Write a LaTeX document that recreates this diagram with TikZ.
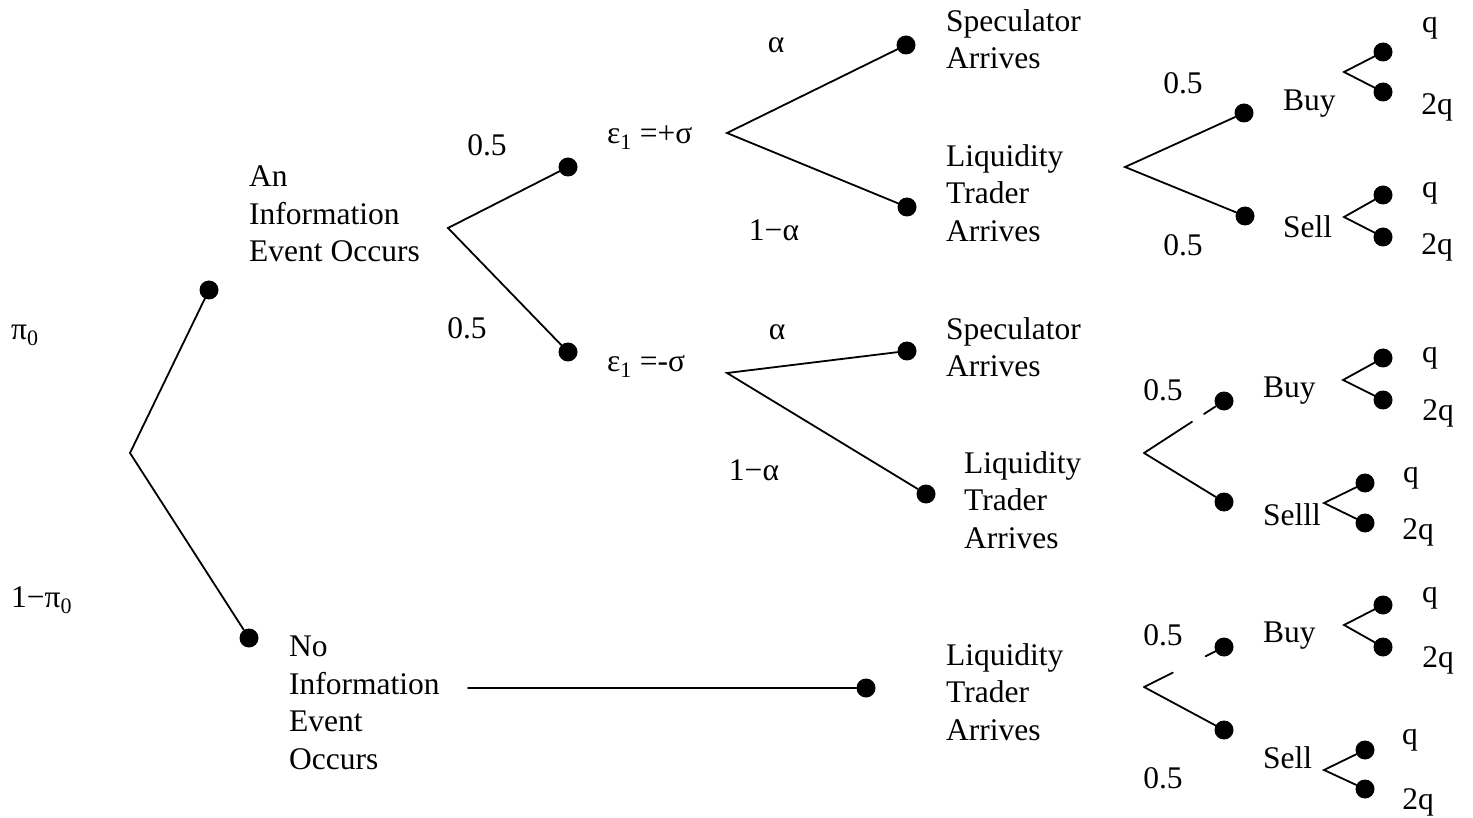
\documentclass[tikz,border=0pt]{standalone}
\usepackage{fontspec}
\setmainfont{Liberation Serif}
\usetikzlibrary{calc}
\tikzset{
  dot/.style={circle,fill=black,inner sep=0pt,minimum size=19pt},
  ln/.style={line width=1.8pt,line cap=round},
  lbl/.style={inner sep=0pt,font=\fontsize{31.5}{37.5}\selectfont},
  blk/.style={lbl,anchor=west,align=left},
}
\begin{document}
\begin{tikzpicture}[x=1pt,y=-1pt]
\useasboundingbox (0,0) rectangle (1473,818);
% ---- fork points
\coordinate (r0) at (130,453);
\coordinate (fa) at (448,228);
\coordinate (fp) at (727,133);
\coordinate (fm) at (727,373);
\coordinate (ft) at (1125,167);
\coordinate (fmid) at (1144,453);
\coordinate (fbot) at (1144,687);
\coordinate (nstart) at (468,688);
\coordinate (b1) at (1344,72);
\coordinate (s1) at (1344,217);
\coordinate (b2) at (1343,380);
\coordinate (s2) at (1324,503);
\coordinate (b3) at (1344,625);
\coordinate (s3) at (1324,770);
% ---- dots
\node[dot] (dinfo) at (209,290) {};
\node[dot] (dnoinfo) at (249,638) {};
\node[dot] (dplus) at (568,167) {};
\node[dot] (dminus) at (568,352) {};
\node[dot] (dspec1) at (906,45) {};
\node[dot] (dliq1) at (907,207) {};
\node[dot] (dspec2) at (907,351) {};
\node[dot] (dliq2) at (926,494) {};
\node[dot] (dliq3) at (866,688) {};
\node[dot] (dbuy1) at (1244,113) {};
\node[dot] (dsell1) at (1245,216) {};
\node[dot] (dbuy2) at (1224,401) {};
\node[dot] (dsell2) at (1224,502) {};
\node[dot] (dbuy3) at (1224,647) {};
\node[dot] (dsell3) at (1224,730) {};
\node[dot] (q1a) at (1383,52) {};
\node[dot] (q1b) at (1383,92) {};
\node[dot] (q2a) at (1383,195) {};
\node[dot] (q2b) at (1383,237) {};
\node[dot] (q3a) at (1383,358) {};
\node[dot] (q3b) at (1383,400) {};
\node[dot] (q4a) at (1365,483) {};
\node[dot] (q4b) at (1365,523) {};
\node[dot] (q5a) at (1383,605) {};
\node[dot] (q5b) at (1383,647) {};
\node[dot] (q6a) at (1365,750) {};
\node[dot] (q6b) at (1365,789) {};
% ---- connectors
\draw[ln] (dinfo) -- (r0) -- (dnoinfo);
\draw[ln] (dplus) -- (fa) -- (dminus);
\draw[ln] (dspec1) -- (fp) -- (dliq1);
\draw[ln] (dspec2) -- (fm) -- (dliq2);
\draw[ln] (nstart) -- (dliq3);
\draw[ln] (dbuy1) -- (ft) -- (dsell1);
\draw[ln] (fmid) -- ($(fmid)!0.6!(dbuy2)$);
\draw[ln] ($(fmid)!0.75!(dbuy2)$) -- (dbuy2);
\draw[ln] (fmid) -- (dsell2);
\draw[ln] (fbot) -- ($(fbot)!0.36!(dbuy3)$);
\draw[ln] ($(fbot)!0.77!(dbuy3)$) -- (dbuy3);
\draw[ln] (fbot) -- (dsell3);
\draw[ln] (q1a) -- (b1) -- (q1b);
\draw[ln] (q2a) -- (s1) -- (q2b);
\draw[ln] (q3a) -- (b2) -- (q3b);
\draw[ln] (q4a) -- (s2) -- (q4b);
\draw[ln] (q5a) -- (b3) -- (q5b);
\draw[ln] (q6a) -- (s3) -- (q6b);
% ---- labels
\node[lbl,anchor=west] (lpi) at (11,335) {π\textsubscript{0}};
\node[lbl,anchor=west] (lnpi) at (11,600) {1−π\textsubscript{0}};
\node[blk] (tinfo) at (249,214) {An\\Information\\Event Occurs};
\node[blk] (tnoinfo) at (289,703) {No\\Information\\Event\\Occurs};
\node[lbl] (p1) at (487,145) {0.5};
\node[lbl] (p2) at (467,328) {0.5};
\node[lbl,anchor=west] (eplus) at (607,138) {ε\textsubscript{1} =+σ};
\node[lbl,anchor=west] (eminus) at (607,366) {ε\textsubscript{1} =-σ};
\node[lbl] (a1) at (776,45) {α};
\node[lbl] (na1) at (774,230) {1−α};
\node[lbl] (a2) at (777,332) {α};
\node[lbl] (na2) at (754,470) {1−α};
\node[blk] (tspec1) at (946,39) {Speculator\\Arrives};
\node[blk] (tliq1) at (946,193) {Liquidity\\Trader\\Arrives};
\node[blk] (tspec2) at (946,347) {Speculator\\Arrives};
\node[blk] (tliq2) at (964,500) {Liquidity\\Trader\\Arrives};
\node[blk] (tliq3) at (946,692) {Liquidity\\Trader\\Arrives};
\node[lbl] (h1) at (1183,83) {0.5};
\node[lbl] (h2) at (1183,245) {0.5};
\node[lbl] (h3) at (1163,390) {0.5};
\node[lbl] (h4) at (1163,635) {0.5};
\node[lbl] (h5) at (1163,778) {0.5};
\node[lbl,anchor=west] (tb1) at (1283,104) {Buy};
\node[lbl,anchor=west] (ts1) at (1283,227) {Sell};
\node[lbl,anchor=west] (tb2) at (1263,391) {Buy};
\node[lbl,anchor=west] (ts2) at (1263,515) {Selll};
\node[lbl,anchor=west] (tb3) at (1263,636) {Buy};
\node[lbl,anchor=west] (ts3) at (1263,758) {Sell};
\node[lbl] (o1) at (1430,28) {q};
\node[lbl] (o2) at (1437,107) {2q};
\node[lbl] (o3) at (1430,193) {q};
\node[lbl] (o4) at (1437,247) {2q};
\node[lbl] (o5) at (1430,358) {q};
\node[lbl] (o6) at (1438,413) {2q};
\node[lbl] (o7) at (1411,478) {q};
\node[lbl] (o8) at (1418,532) {2q};
\node[lbl] (o9) at (1430,598) {q};
\node[lbl] (o10) at (1438,660) {2q};
\node[lbl] (o11) at (1410,740) {q};
\node[lbl] (o12) at (1418,802) {2q};
\end{tikzpicture}
\end{document}
